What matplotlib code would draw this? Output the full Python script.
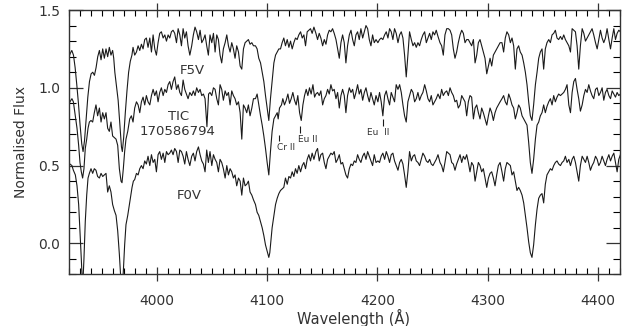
import matplotlib
matplotlib.use("Agg")
import matplotlib.pyplot as plt
from matplotlib.ticker import MultipleLocator

# ---- spectra (wavelength in A, normalised flux) ----
wl_f5v = [
    3920.0, 3921.5, 3923.0, 3924.5, 3926.0, 3927.5, 3929.0, 3930.5, 3932.0, 3933.2,
    3934.5, 3936.0, 3937.5, 3939.0, 3940.5, 3942.0, 3943.5, 3945.0, 3946.5, 3948.0,
    3949.5, 3951.0, 3952.5, 3954.0, 3955.5, 3957.0, 3958.5, 3960.0, 3961.0, 3962.0,
    3963.5, 3965.0, 3966.5, 3968.0, 3968.8, 3970.0, 3971.5, 3973.0, 3974.5, 3976.0,
    3977.5, 3978.5, 3980.0, 3981.6, 3983.1, 3984.6, 3986.1, 3987.6, 3989.1, 3990.6,
    3992.1, 3993.7, 3995.2, 3996.7, 3998.2, 3999.7, 4001.2, 4002.7, 4004.2, 4005.8,
    4007.3, 4008.8, 4010.3, 4011.8, 4013.3, 4014.8, 4016.3, 4017.9, 4019.4, 4020.9,
    4022.4, 4023.9, 4025.4, 4026.9, 4028.4, 4030.0, 4031.7, 4033.2, 4034.7, 4036.2,
    4037.8, 4039.3, 4040.8, 4042.3, 4043.8, 4045.3, 4046.8, 4048.3, 4049.9, 4051.4,
    4052.9, 4054.4, 4055.9, 4057.4, 4058.9, 4060.4, 4062.0, 4063.5, 4065.0, 4066.5,
    4068.0, 4069.5, 4071.0, 4072.5, 4074.1, 4075.6, 4077.1, 4078.6, 4080.1, 4081.6,
    4083.1, 4084.6, 4086.2, 4087.7, 4089.5, 4091.0, 4092.5, 4094.1, 4095.6, 4097.1,
    4098.6, 4100.1, 4101.6, 4103.1, 4104.6, 4106.2, 4107.7, 4109.2, 4110.7, 4112.2,
    4113.7, 4115.2, 4116.7, 4118.3, 4119.8, 4121.3, 4122.8, 4124.3, 4125.8, 4127.3,
    4128.8, 4130.4, 4131.9, 4133.4, 4134.9, 4136.4, 4137.9, 4139.4, 4140.9, 4142.5,
    4144.3, 4145.8, 4147.3, 4148.8, 4150.4, 4151.9, 4153.4, 4154.9, 4156.4, 4157.9,
    4159.4, 4160.9, 4162.5, 4164.0, 4165.5, 4167.0, 4168.5, 4170.0, 4171.5, 4173.0,
    4174.6, 4176.1, 4177.6, 4179.1, 4180.6, 4182.1, 4183.6, 4185.1, 4186.7, 4188.2,
    4189.7, 4191.2, 4192.7, 4194.2, 4195.7, 4197.2, 4198.8, 4200.5, 4202.0, 4203.5,
    4205.0, 4206.6, 4208.1, 4209.6, 4211.1, 4212.6, 4214.1, 4215.6, 4217.1, 4218.7,
    4220.2, 4221.7, 4223.2, 4224.7, 4226.2, 4227.7, 4229.2, 4230.8, 4232.3, 4233.8,
    4235.3, 4236.8, 4238.3, 4239.8, 4241.3, 4242.9, 4244.4, 4245.9, 4247.4, 4248.9,
    4250.4, 4251.9, 4253.4, 4255.0, 4256.8, 4258.3, 4259.8, 4261.3, 4262.9, 4264.4,
    4265.9, 4267.4, 4268.9, 4270.4, 4271.9, 4273.4, 4275.0, 4276.5, 4278.0, 4279.5,
    4281.0, 4282.5, 4284.0, 4285.5, 4287.1, 4288.6, 4290.1, 4291.6, 4293.1, 4294.6,
    4296.1, 4297.6, 4299.2, 4300.7, 4302.2, 4303.7, 4305.2, 4306.7, 4308.2, 4309.7,
    4311.3, 4313.0, 4314.5, 4316.0, 4317.5, 4319.1, 4320.6, 4322.1, 4323.6, 4325.1,
    4326.6, 4328.1, 4329.6, 4331.2, 4332.7, 4334.2, 4335.7, 4337.2, 4338.7, 4340.2,
    4341.7, 4343.3, 4344.8, 4346.3, 4347.8, 4349.3, 4350.8, 4352.3, 4353.8, 4355.4,
    4356.9, 4358.4, 4359.9, 4361.4, 4362.9, 4364.4, 4366.0, 4367.5, 4369.0, 4370.5,
    4372.0, 4373.6, 4375.1, 4376.6, 4378.1, 4379.6, 4381.1, 4382.6, 4384.1, 4385.7,
    4387.2, 4388.7, 4390.2, 4391.7, 4393.2, 4394.7, 4396.2, 4397.8, 4399.3, 4400.8,
    4402.3, 4403.8, 4405.3, 4406.8, 4408.3, 4409.9, 4411.4, 4412.9, 4414.4, 4415.9,
    4417.4, 4418.9, 4420.4,
]
flux_f5v = [
    1.19, 1.22, 1.24, 1.21, 1.13, 1.02, 0.90, 0.76, 0.64, 0.59,
    0.66, 0.80, 0.94, 1.04, 1.09, 1.10, 1.08, 1.13, 1.20, 1.24,
    1.18, 1.25, 1.19, 1.25, 1.20, 1.26, 1.21, 1.24, 1.19, 1.10,
    1.01, 0.92, 0.77, 0.62, 0.59, 0.68, 0.84, 0.98, 1.10, 1.17,
    1.21, 1.26, 1.21, 1.23, 1.27, 1.24, 1.28, 1.25, 1.31, 1.32,
    1.26, 1.32, 1.23, 1.34, 1.25, 1.21, 1.29, 1.35, 1.36, 1.32,
    1.34, 1.30, 1.34, 1.32, 1.36, 1.37, 1.35, 1.29, 1.38, 1.34,
    1.27, 1.38, 1.32, 1.36, 1.27, 1.21, 1.27, 1.34, 1.39, 1.36,
    1.31, 1.37, 1.29, 1.31, 1.34, 1.27, 1.21, 1.34, 1.29, 1.35,
    1.23, 1.34, 1.31, 1.21, 1.16, 1.25, 1.29, 1.34, 1.27, 1.23,
    1.29, 1.25, 1.19, 1.27, 1.23, 1.14, 1.12, 1.25, 1.29, 1.30,
    1.31, 1.28, 1.29, 1.27, 1.27, 1.25, 1.19, 1.16, 1.10, 1.04,
    0.95, 0.87, 0.79, 0.93, 1.04, 1.16, 1.21, 1.23, 1.25, 1.25,
    1.29, 1.32, 1.27, 1.31, 1.26, 1.30, 1.25, 1.29, 1.32, 1.31,
    1.34, 1.36, 1.32, 1.34, 1.27, 1.36, 1.37, 1.38, 1.35, 1.39,
    1.35, 1.31, 1.35, 1.32, 1.27, 1.31, 1.28, 1.34, 1.37, 1.36,
    1.38, 1.35, 1.31, 1.25, 1.19, 1.29, 1.34, 1.29, 1.16, 1.27,
    1.34, 1.37, 1.31, 1.27, 1.34, 1.36, 1.31, 1.38, 1.32, 1.36,
    1.40, 1.38, 1.31, 1.27, 1.34, 1.29, 1.31, 1.29, 1.31, 1.32,
    1.31, 1.34, 1.36, 1.32, 1.38, 1.36, 1.31, 1.38, 1.35, 1.29,
    1.34, 1.36, 1.32, 1.21, 1.07, 1.21, 1.36, 1.31, 1.27, 1.29,
    1.26, 1.29, 1.27, 1.31, 1.34, 1.36, 1.29, 1.32, 1.35, 1.31,
    1.36, 1.34, 1.37, 1.33, 1.29, 1.27, 1.21, 1.34, 1.38, 1.38,
    1.37, 1.34, 1.25, 1.19, 1.23, 1.29, 1.34, 1.37, 1.35, 1.29,
    1.31, 1.31, 1.29, 1.27, 1.31, 1.16, 1.21, 1.29, 1.31, 1.27,
    1.23, 1.19, 1.09, 1.14, 1.19, 1.14, 1.21, 1.23, 1.25, 1.27,
    1.29, 1.29, 1.23, 1.32, 1.36, 1.34, 1.29, 1.32, 1.27, 1.12,
    1.25, 1.27, 1.23, 1.21, 1.16, 1.10, 1.02, 0.91, 0.82, 0.79,
    0.89, 1.02, 1.10, 1.19, 1.23, 1.25, 1.12, 1.25, 1.29, 1.31,
    1.29, 1.34, 1.35, 1.37, 1.32, 1.31, 1.33, 1.31, 1.34, 1.31,
    1.29, 1.27, 1.23, 1.38, 1.37, 1.36, 1.27, 1.12, 1.27, 1.38,
    1.35, 1.30, 1.32, 1.34, 1.36, 1.38, 1.34, 1.29, 1.25, 1.31,
    1.37, 1.32, 1.29, 1.32, 1.38, 1.31, 1.25, 1.32, 1.38, 1.31,
    1.35, 1.37, 1.36,
]

wl_tic = [
    3920.1, 3921.3, 3923.1, 3924.4, 3926.2, 3927.7, 3929.2, 3930.4, 3931.6, 3932.8,
    3934.0, 3935.2, 3936.5, 3937.7, 3938.9, 3940.4, 3941.9, 3943.4, 3944.9, 3946.4,
    3948.0, 3949.5, 3951.0, 3952.5, 3954.0, 3955.5, 3957.0, 3958.5, 3960.0, 3961.6,
    3963.1, 3964.6, 3966.1, 3967.6, 3968.5, 3969.7, 3970.9, 3972.1, 3973.7, 3975.5,
    3977.0, 3978.5, 3980.0, 3981.6, 3983.1, 3984.6, 3986.1, 3987.6, 3989.1, 3990.6,
    3992.1, 3993.7, 3995.2, 3996.7, 3998.2, 3999.7, 4001.2, 4002.7, 4004.2, 4005.8,
    4007.3, 4008.8, 4010.3, 4011.8, 4013.3, 4014.8, 4016.3, 4017.9, 4019.4, 4020.9,
    4022.4, 4023.9, 4025.4, 4026.9, 4028.4, 4030.0, 4031.7, 4033.2, 4034.7, 4036.2,
    4037.8, 4039.3, 4040.8, 4042.3, 4043.8, 4045.5, 4047.0, 4048.3, 4049.9, 4051.4,
    4052.9, 4054.4, 4055.9, 4057.4, 4058.9, 4060.4, 4062.0, 4063.5, 4065.0, 4066.5,
    4068.0, 4069.5, 4071.0, 4072.5, 4074.1, 4075.6, 4077.1, 4078.6, 4080.1, 4081.6,
    4083.1, 4084.6, 4086.2, 4087.7, 4089.5, 4091.0, 4092.5, 4094.1, 4095.6, 4097.1,
    4098.6, 4100.1, 4101.6, 4103.1, 4104.6, 4106.2, 4107.7, 4109.2, 4110.1, 4111.3,
    4113.1, 4114.3, 4115.8, 4117.4, 4118.9, 4120.4, 4121.9, 4123.4, 4124.9, 4126.4,
    4127.9, 4129.5, 4131.0, 4132.5, 4134.0, 4135.5, 4137.0, 4138.5, 4140.0, 4141.6,
    4143.1, 4144.3, 4145.8, 4147.3, 4148.8, 4150.4, 4151.9, 4153.4, 4154.9, 4156.4,
    4157.9, 4159.4, 4160.9, 4162.5, 4164.0, 4165.5, 4167.0, 4168.5, 4170.0, 4171.5,
    4173.0, 4174.6, 4176.1, 4177.6, 4179.1, 4180.6, 4182.1, 4183.6, 4185.1, 4186.7,
    4188.2, 4189.7, 4191.2, 4192.7, 4194.2, 4195.7, 4197.2, 4198.8, 4200.5, 4202.0,
    4203.5, 4205.0, 4206.6, 4208.1, 4209.6, 4211.1, 4212.6, 4214.1, 4215.6, 4217.1,
    4218.7, 4220.2, 4221.7, 4223.2, 4224.7, 4226.2, 4227.7, 4229.2, 4230.8, 4232.3,
    4233.8, 4235.3, 4236.8, 4238.3, 4239.8, 4241.3, 4242.9, 4244.4, 4245.9, 4247.4,
    4248.9, 4250.4, 4251.9, 4253.4, 4255.0, 4256.8, 4258.3, 4259.8, 4261.3, 4262.9,
    4264.4, 4265.9, 4267.4, 4268.9, 4270.4, 4271.9, 4273.4, 4275.0, 4276.5, 4278.0,
    4279.5, 4281.0, 4282.5, 4284.0, 4285.5, 4287.1, 4288.6, 4290.1, 4291.6, 4293.1,
    4294.6, 4296.1, 4297.6, 4299.2, 4300.7, 4302.2, 4303.7, 4305.2, 4306.7, 4308.2,
    4309.7, 4311.3, 4313.0, 4314.5, 4316.0, 4317.5, 4319.1, 4320.6, 4322.1, 4323.6,
    4325.1, 4326.6, 4328.1, 4329.6, 4331.2, 4332.7, 4334.2, 4335.7, 4337.2, 4338.7,
    4340.2, 4341.7, 4343.3, 4344.8, 4346.3, 4347.8, 4349.3, 4350.8, 4352.3, 4353.8,
    4355.4, 4356.9, 4358.4, 4359.9, 4361.4, 4362.9, 4364.4, 4366.0, 4367.5, 4369.0,
    4370.5, 4372.0, 4373.6, 4375.1, 4376.6, 4378.1, 4379.6, 4381.1, 4382.6, 4384.1,
    4385.7, 4387.2, 4388.7, 4390.2, 4391.7, 4393.2, 4394.7, 4396.2, 4397.8, 4399.3,
    4400.8, 4402.3, 4403.8, 4405.3, 4406.8, 4408.3, 4409.9, 4411.4, 4412.9, 4414.4,
    4415.9, 4417.4, 4418.9, 4420.4,
]
flux_tic = [
    0.89, 0.91, 0.93, 0.91, 0.82, 0.74, 0.63, 0.52, 0.46, 0.42,
    0.48, 0.61, 0.67, 0.74, 0.78, 0.79, 0.78, 0.84, 0.89, 0.82,
    0.87, 0.78, 0.84, 0.80, 0.84, 0.74, 0.72, 0.78, 0.69, 0.68,
    0.67, 0.63, 0.48, 0.40, 0.39, 0.48, 0.59, 0.67, 0.72, 0.80,
    0.82, 0.78, 0.87, 0.91, 0.89, 0.84, 0.91, 0.94, 0.89, 0.95,
    0.91, 0.89, 0.95, 0.99, 0.95, 0.98, 0.91, 0.97, 1.00, 0.95,
    0.99, 0.97, 1.02, 1.04, 0.99, 1.04, 1.07, 0.99, 1.02, 0.97,
    0.95, 1.05, 0.99, 0.96, 0.93, 0.97, 0.95, 0.98, 0.95, 1.00,
    0.97, 0.99, 0.95, 0.96, 0.93, 0.75, 0.96, 0.97, 0.95, 1.00,
    0.99, 0.93, 0.89, 1.02, 0.99, 0.92, 0.98, 0.95, 0.97, 0.89,
    0.98, 0.95, 0.93, 0.89, 0.91, 0.84, 0.67, 0.89, 0.87, 0.84,
    0.89, 0.82, 0.87, 0.93, 0.93, 0.96, 0.89, 0.82, 0.76, 0.69,
    0.61, 0.52, 0.44, 0.59, 0.72, 0.80, 0.82, 0.84, 0.80, 0.87,
    0.89, 0.93, 0.89, 0.92, 0.96, 0.90, 0.93, 0.97, 0.92, 0.89,
    0.95, 0.84, 0.79, 0.89, 0.95, 0.99, 0.95, 1.00, 0.96, 1.02,
    0.94, 0.96, 0.97, 0.95, 0.98, 0.89, 0.93, 0.95, 0.99, 0.96,
    1.02, 0.98, 0.99, 0.93, 0.97, 0.87, 0.95, 0.99, 0.95, 0.84,
    0.95, 1.00, 0.97, 0.99, 0.93, 0.97, 1.02, 0.96, 0.99, 0.92,
    0.97, 1.00, 0.95, 0.91, 0.97, 0.93, 0.89, 0.95, 0.91, 0.97,
    0.91, 0.82, 0.95, 0.98, 0.93, 0.89, 0.97, 0.94, 0.91, 1.02,
    0.99, 1.02, 0.97, 0.89, 0.82, 0.78, 0.91, 0.95, 0.99, 0.97,
    0.91, 0.93, 0.97, 0.92, 0.95, 0.97, 1.02, 0.98, 0.93, 0.91,
    0.95, 0.89, 0.91, 0.93, 0.96, 0.93, 0.99, 0.95, 0.97, 0.98,
    0.95, 1.00, 0.97, 0.95, 0.91, 0.92, 0.87, 0.89, 0.95, 0.93,
    0.91, 0.82, 0.91, 0.95, 0.94, 0.80, 0.87, 0.89, 0.84, 0.80,
    0.87, 0.84, 0.80, 0.76, 0.82, 0.87, 0.84, 0.79, 0.84, 0.87,
    0.89, 0.91, 0.93, 0.95, 0.91, 0.89, 0.96, 0.93, 0.89, 0.87,
    0.80, 0.84, 0.89, 0.87, 0.82, 0.80, 0.78, 0.76, 0.65, 0.52,
    0.45, 0.54, 0.67, 0.76, 0.78, 0.82, 0.84, 0.89, 0.84, 0.88,
    0.91, 0.93, 0.89, 0.95, 0.91, 0.94, 0.96, 0.95, 0.96, 0.97,
    0.99, 1.02, 0.89, 0.84, 0.97, 1.04, 1.06, 0.99, 0.93, 0.85,
    0.89, 0.95, 0.99, 0.97, 1.02, 0.98, 0.95, 0.93, 0.99, 1.00,
    0.95, 0.97, 1.00, 0.92, 0.97, 0.99, 0.95, 0.93, 0.98, 0.96,
    0.94, 0.97, 0.95, 0.96,
]

wl_f0v = [
    3920.1, 3921.3, 3923.1, 3924.4, 3926.2, 3927.7, 3929.2, 3930.4, 3931.6, 3932.8,
    3934.0, 3935.2, 3936.5, 3937.7, 3938.9, 3940.4, 3941.9, 3943.4, 3944.9, 3946.4,
    3948.0, 3949.5, 3951.0, 3952.5, 3954.0, 3955.5, 3957.0, 3958.5, 3960.0, 3961.6,
    3963.1, 3964.6, 3966.1, 3967.6, 3968.5, 3969.7, 3970.9, 3972.1, 3973.7, 3975.2,
    3976.4, 3977.6, 3978.8, 3980.0, 3981.6, 3983.1, 3984.6, 3986.1, 3987.6, 3989.1,
    3990.6, 3992.1, 3993.7, 3995.2, 3996.7, 3998.2, 3999.7, 4001.2, 4002.7, 4004.2,
    4005.8, 4007.3, 4008.8, 4010.3, 4011.8, 4013.3, 4014.8, 4016.3, 4017.9, 4019.4,
    4020.9, 4022.4, 4023.9, 4025.4, 4026.9, 4028.4, 4030.0, 4031.7, 4033.2, 4034.7,
    4036.2, 4037.8, 4039.3, 4040.8, 4042.3, 4043.8, 4045.3, 4046.8, 4048.3, 4049.9,
    4051.4, 4052.9, 4054.4, 4055.9, 4057.4, 4058.9, 4060.4, 4062.0, 4063.5, 4065.0,
    4066.5, 4068.0, 4069.5, 4071.0, 4072.5, 4074.1, 4075.6, 4077.1, 4078.6, 4080.1,
    4081.6, 4083.1, 4084.6, 4086.2, 4087.7, 4089.5, 4091.0, 4092.5, 4094.1, 4095.6,
    4097.1, 4098.6, 4100.1, 4101.6, 4102.5, 4103.4, 4104.6, 4106.2, 4107.7, 4109.2,
    4110.7, 4112.2, 4113.7, 4115.2, 4116.7, 4118.3, 4119.8, 4121.3, 4122.8, 4124.3,
    4125.8, 4127.3, 4128.8, 4130.4, 4131.9, 4133.4, 4134.9, 4136.4, 4137.9, 4139.4,
    4140.9, 4142.5, 4144.3, 4145.8, 4147.3, 4148.8, 4150.4, 4151.9, 4153.4, 4154.9,
    4156.4, 4157.9, 4159.4, 4160.9, 4162.5, 4164.0, 4165.5, 4167.0, 4168.5, 4170.0,
    4171.5, 4173.0, 4174.6, 4176.1, 4177.6, 4179.1, 4180.6, 4182.1, 4183.6, 4185.1,
    4186.7, 4188.2, 4189.7, 4191.2, 4192.7, 4194.2, 4195.7, 4197.2, 4198.8, 4200.5,
    4202.0, 4203.5, 4205.0, 4206.6, 4208.1, 4209.6, 4211.1, 4212.6, 4214.1, 4215.6,
    4217.1, 4218.7, 4220.2, 4221.7, 4223.2, 4224.7, 4226.2, 4227.7, 4229.2, 4230.8,
    4232.3, 4233.8, 4235.3, 4236.8, 4238.3, 4239.8, 4241.3, 4242.9, 4244.4, 4245.9,
    4247.4, 4248.9, 4250.4, 4251.9, 4253.4, 4255.0, 4256.8, 4258.3, 4259.8, 4261.3,
    4262.9, 4264.4, 4265.9, 4267.4, 4268.9, 4270.4, 4271.9, 4273.4, 4275.0, 4276.5,
    4278.0, 4279.5, 4281.0, 4282.5, 4284.0, 4285.5, 4287.1, 4288.6, 4290.1, 4291.6,
    4293.1, 4294.6, 4296.1, 4297.6, 4299.2, 4300.7, 4302.2, 4303.7, 4305.2, 4306.7,
    4308.2, 4309.7, 4311.3, 4313.0, 4314.5, 4316.0, 4317.5, 4319.1, 4320.6, 4322.1,
    4323.6, 4325.1, 4326.6, 4328.1, 4329.6, 4331.2, 4332.7, 4334.2, 4335.7, 4337.2,
    4338.7, 4340.2, 4341.7, 4343.3, 4344.8, 4346.3, 4347.8, 4349.3, 4350.8, 4352.3,
    4353.8, 4355.4, 4356.9, 4358.4, 4359.9, 4361.4, 4362.9, 4364.4, 4366.0, 4367.5,
    4369.0, 4370.5, 4372.0, 4373.6, 4375.1, 4376.6, 4378.1, 4379.6, 4381.1, 4382.6,
    4384.1, 4385.7, 4387.2, 4388.7, 4390.2, 4391.7, 4393.2, 4394.7, 4396.2, 4397.8,
    4399.3, 4400.8, 4402.3, 4403.8, 4405.3, 4406.8, 4408.3, 4409.9, 4411.4, 4412.9,
    4414.4, 4415.9, 4417.4, 4418.9, 4420.4,
]
flux_f0v = [
    0.50, 0.51, 0.50, 0.47, 0.44, 0.37, 0.25, 0.08, -0.10, -0.29,
    -0.10, 0.14, 0.31, 0.42, 0.45, 0.48, 0.45, 0.48, 0.47, 0.43,
    0.42, 0.45, 0.43, 0.44, 0.45, 0.33, 0.37, 0.33, 0.25, 0.21,
    0.18, 0.08, -0.07, -0.25, -0.31, -0.18, -0.01, 0.12, 0.18, 0.25,
    0.31, 0.36, 0.40, 0.41, 0.45, 0.44, 0.48, 0.50, 0.48, 0.53,
    0.51, 0.56, 0.50, 0.57, 0.52, 0.54, 0.46, 0.57, 0.59, 0.54,
    0.58, 0.52, 0.59, 0.57, 0.58, 0.60, 0.57, 0.61, 0.59, 0.52,
    0.60, 0.59, 0.56, 0.51, 0.59, 0.54, 0.50, 0.56, 0.58, 0.53,
    0.59, 0.62, 0.57, 0.53, 0.51, 0.46, 0.60, 0.52, 0.59, 0.50,
    0.57, 0.54, 0.52, 0.46, 0.54, 0.52, 0.48, 0.42, 0.50, 0.44,
    0.48, 0.46, 0.42, 0.44, 0.37, 0.42, 0.40, 0.31, 0.42, 0.37,
    0.38, 0.40, 0.33, 0.31, 0.28, 0.25, 0.20, 0.18, 0.14, 0.10,
    0.05, -0.01, -0.05, -0.09, -0.06, 0.01, 0.10, 0.18, 0.25, 0.29,
    0.32, 0.34, 0.35, 0.36, 0.42, 0.38, 0.43, 0.42, 0.46, 0.43,
    0.48, 0.45, 0.50, 0.46, 0.50, 0.52, 0.48, 0.54, 0.57, 0.53,
    0.58, 0.54, 0.59, 0.61, 0.53, 0.57, 0.58, 0.52, 0.48, 0.54,
    0.56, 0.58, 0.57, 0.59, 0.52, 0.54, 0.57, 0.51, 0.52, 0.48,
    0.44, 0.42, 0.48, 0.51, 0.50, 0.53, 0.52, 0.57, 0.54, 0.52,
    0.56, 0.58, 0.54, 0.59, 0.56, 0.53, 0.50, 0.57, 0.52, 0.53,
    0.52, 0.56, 0.58, 0.54, 0.59, 0.56, 0.52, 0.57, 0.58, 0.53,
    0.50, 0.47, 0.52, 0.54, 0.51, 0.44, 0.36, 0.46, 0.59, 0.53,
    0.56, 0.57, 0.53, 0.52, 0.50, 0.54, 0.58, 0.56, 0.53, 0.52,
    0.54, 0.51, 0.50, 0.52, 0.54, 0.57, 0.52, 0.50, 0.46, 0.52,
    0.59, 0.58, 0.57, 0.52, 0.51, 0.47, 0.51, 0.54, 0.57, 0.52,
    0.56, 0.54, 0.57, 0.52, 0.46, 0.52, 0.50, 0.40, 0.46, 0.52,
    0.50, 0.46, 0.48, 0.42, 0.36, 0.42, 0.45, 0.46, 0.42, 0.37,
    0.44, 0.50, 0.52, 0.46, 0.40, 0.48, 0.52, 0.51, 0.50, 0.44,
    0.46, 0.40, 0.34, 0.36, 0.34, 0.31, 0.26, 0.18, 0.10, 0.01,
    -0.06, -0.09, -0.01, 0.12, 0.22, 0.29, 0.31, 0.32, 0.26, 0.38,
    0.44, 0.46, 0.48, 0.47, 0.50, 0.52, 0.53, 0.51, 0.50, 0.52,
    0.53, 0.56, 0.52, 0.54, 0.50, 0.54, 0.56, 0.52, 0.46, 0.40,
    0.50, 0.56, 0.54, 0.52, 0.56, 0.52, 0.47, 0.50, 0.52, 0.56,
    0.54, 0.50, 0.52, 0.56, 0.53, 0.50, 0.54, 0.57, 0.53, 0.56,
    0.58, 0.52, 0.46, 0.54, 0.57,
]

# star labels
star_names = ["F5V", "TIC", "170586794", "F0V"]
star_wl = [4031.8, 4019.6, 4018.9, 4029.3]
star_flux = [1.11, 0.815, 0.72, 0.31]

# line identifications on the TIC spectrum
line_ids = ["Cr II", "Eu II", "Eu  II"]
line_wl = [4111.0, 4130.1, 4204.8]
line_lo = [0.658, 0.711, 0.752]
line_hi = [0.699, 0.752, 0.800]
label_wl = [4109.3, 4128.5, 4190.6]
label_flux = [0.617, 0.670, 0.715]

ink = "#1a1a1a"
plt.rcParams["font.family"] = ["DejaVu Sans"]

fig = plt.figure(figsize=(6.32, 3.26), dpi=100)
ax = fig.add_axes([0.1084, 0.158, 0.8726, 0.8113])

for wl, fl in [(wl_f5v, flux_f5v), (wl_tic, flux_tic), (wl_f0v, flux_f0v)]:
    ax.plot(wl, fl, color=ink, lw=0.8)

for s, x, y in zip(star_names, star_wl, star_flux):
    ax.text(x, y, s, ha="center", va="center", fontsize=9.5, color="#333333")

ax.vlines(line_wl, line_lo, line_hi, color=ink, lw=0.8)
for s, x, y in zip(line_ids, label_wl, label_flux):
    ax.text(x, y, s, ha="left", va="center", fontsize=6.5, color="#333333")

ax.set_xlim(3920, 4420)
ax.set_ylim(-0.2, 1.5)
ax.xaxis.set_major_locator(MultipleLocator(100))
ax.xaxis.set_minor_locator(MultipleLocator(10))
ax.yaxis.set_major_locator(MultipleLocator(0.5))
ax.yaxis.set_minor_locator(MultipleLocator(0.1))
ax.yaxis.set_major_formatter(plt.FuncFormatter(lambda v, p: f"{v:.1f}"))

ax.tick_params(axis="x", which="major", direction="inout", length=10, width=0.9,
               top=True, pad=9, labelsize=10, colors="#333333")
ax.tick_params(axis="x", which="minor", direction="in", length=4, width=0.8, top=True)
ax.tick_params(axis="y", which="major", direction="in", length=10, width=0.9,
               right=True, pad=6, labelsize=10, colors="#333333")
ax.tick_params(axis="y", which="minor", direction="in", length=5, width=0.8, right=True)
for sp in ax.spines.values():
    sp.set_linewidth(1.0)
    sp.set_color("#333333")

ax.set_xlabel("Wavelength (Å)", fontsize=10.5, color="#333333")
ax.xaxis.set_label_coords(0.516, -0.132)
ax.set_ylabel("Normalised Flux", fontsize=10, color="#333333", labelpad=7)

fig.savefig("out.png", dpi=100)
